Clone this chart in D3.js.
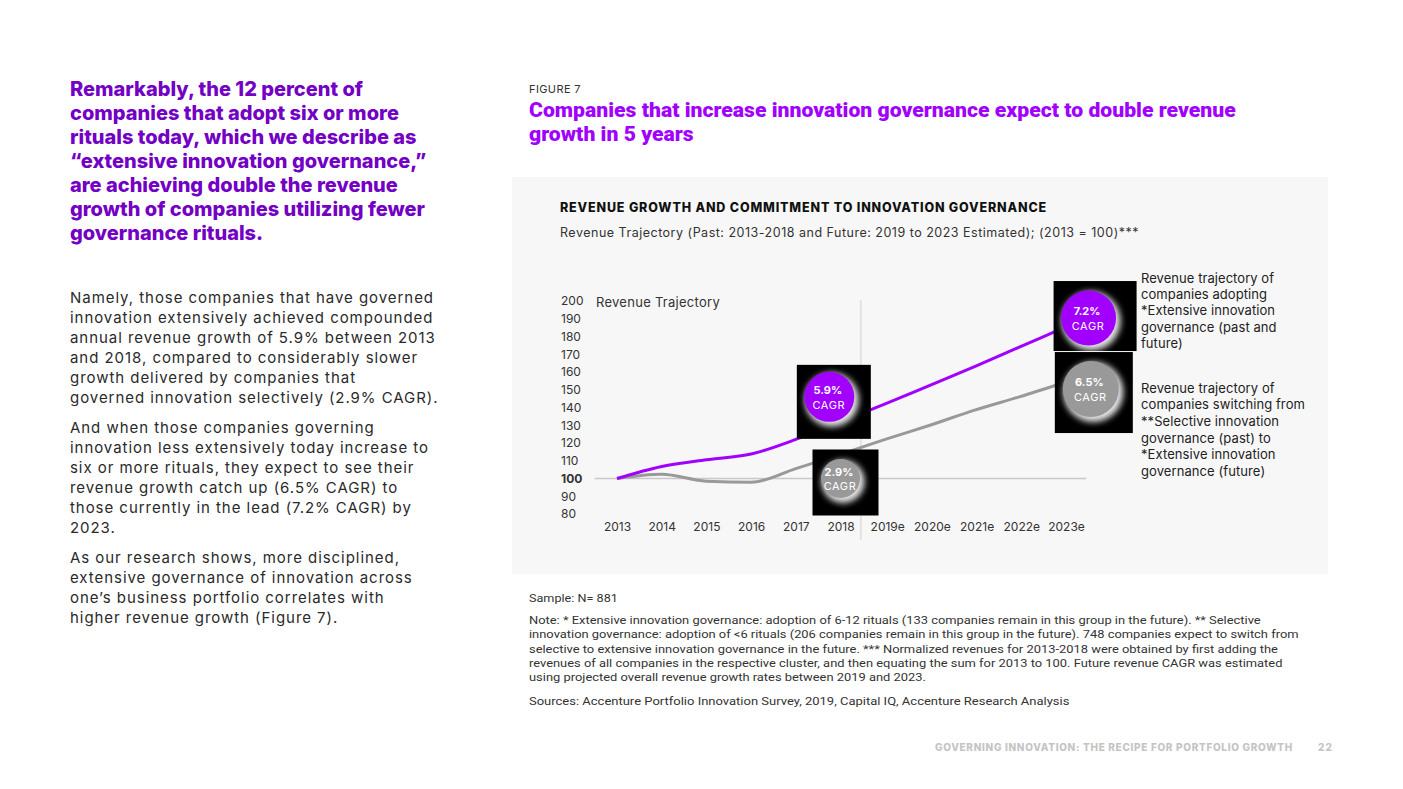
<!DOCTYPE html>
<html><head><meta charset="utf-8">
<script src="https://cdn.jsdelivr.net/npm/d3@7"></script>
<style>body{margin:0;background:#fff;} svg{display:block;}</style>
</head><body>
<svg id="c" width="1403" height="789"></svg>
<script>
// ---------- DATA ----------
const years = ["2013","2014","2015","2016","2017","2018","2019e","2020e","2021e","2022e","2023e"];
const extensiveSeries = [100,106.8,110.6,113.8,122,132,142,152.5,163,174,185];
const switchingSeries = [100,102.4,98.5,97.9,105.6,113.6,122,130,138.5,146,154];
const yTicks = [80,90,100,110,120,130,140,150,160,170,180,190,200];
const cagrLabels = ["5.9%","2.9%","7.2%","6.5%"];
const cagrSeries = ["extensive","switching","extensive","switching"];
const cagrAtIndex = [4.75,5.0,10.55,10.6];
const cagrAtValue = [146,100,190.4,150.4];

const headlineLines = ["Remarkably, the 12 percent of","companies that adopt six or more","rituals today, which we describe as","\u201Cextensive innovation governance,\u201D","are achieving double the revenue","growth of companies utilizing fewer","governance rituals."];
const bodyParas = [
 ["Namely, those companies that have governed","innovation extensively achieved compounded","annual revenue growth of 5.9% between 2013","and 2018, compared to considerably slower","growth delivered by companies that","governed innovation selectively (2.9% CAGR)."],
 ["And when those companies governing","innovation less extensively today increase to","six or more rituals, they expect to see their","revenue growth catch up (6.5% CAGR) to","those currently in the lead (7.2% CAGR) by","2023."],
 ["As our research shows, more disciplined,","extensive governance of innovation across","one\u2019s business portfolio correlates with","higher revenue growth (Figure 7)."]
];
const figureLabel = "FIGURE 7";
const titleLines = ["Companies that increase innovation governance expect to double revenue","growth in 5 years"];
const chartTitle = "REVENUE GROWTH AND COMMITMENT TO INNOVATION GOVERNANCE";
const chartSubtitle = "Revenue Trajectory (Past: 2013-2018 and Future: 2019 to 2023 Estimated); (2013 = 100)***";
const axisTitle = "Revenue Trajectory";
const legendExtensive = ["Revenue trajectory of","companies adopting","*Extensive innovation","governance (past and","future)"];
const legendSwitching = ["Revenue trajectory of","companies switching from","**Selective innovation","governance (past) to","*Extensive innovation","governance (future)"];
const sampleText = "Sample: N= 881";
const noteLines = ["Note: * Extensive innovation governance: adoption of 6-12 rituals (133 companies remain in this group in the future). ** Selective","innovation governance: adoption of <6 rituals (206 companies remain in this group in the future). 748 companies expect to switch from","selective to extensive innovation governance in the future. *** Normalized revenues for 2013-2018 were obtained by first adding the","revenues of all companies in the respective cluster, and then equating the sum for 2013 to 100. Future revenue CAGR was estimated","using projected overall revenue growth rates between 2019 and 2023."];
const sourcesText = "Sources: Accenture Portfolio Innovation Survey, 2019, Capital IQ, Accenture Research Analysis";
const footerText = "GOVERNING INNOVATION: THE RECIPE FOR PORTFOLIO GROWTH";
const pageNumber = "22";

// ---------- STYLE / LAYOUT ----------
const PURPLE = "#a100ff", DARKPURPLE = "#7300c4", GRAY = "#999999", TXT = "#333333";
const svg = d3.select("#c");
const defs = svg.append("defs");
defs.append("filter").attr("id","glow").attr("x","-50%").attr("y","-50%").attr("width","200%").attr("height","200%")
  .append("feGaussianBlur").attr("stdDeviation",3.2);

function block(lines, o){
  const g = svg.append("g");
  const ys = o.ys || lines.map((s,i)=>o.y0 + i*(o.dy||0));
  const texts = lines.map((s,i)=> g.append("text")
    .attr("x",o.x).attr("y",ys[i])
    .attr("font-family",o.family||"Inter").attr("font-size",o.size)
    .attr("font-weight",o.weight||400).attr("fill",o.color||TXT)
    .attr("text-anchor",o.anchor||"start").text(s));
  if (o.refWidth){
    const ri = o.refIdx||0;
    const w = texts[ri].node().getComputedTextLength();
    if (o.mode==="scale"){
      const k = o.refWidth/w;
      g.attr("transform",`translate(${o.x},0) scale(${k},1) translate(${-o.x},0)`);
    } else {
      const ls = (o.refWidth - w)/lines[ri].length;
      texts.forEach(t=>t.attr("letter-spacing",ls));
    }
  }
  return g;
}

// ---------- LEFT COLUMN ----------
block(headlineLines,{x:70,y0:96,dy:24,size:20,weight:800,color:DARKPURPLE,refIdx:5,refWidth:355});
const bodyStarts=[298,428,558];
const bodyLines=[], bodyYs=[];
bodyParas.forEach((p,i)=>p.forEach((s,j)=>{bodyLines.push(s); bodyYs.push(bodyStarts[i]+5.4+j*20);}));
block(bodyLines,{x:70,ys:bodyYs,size:15,color:"#2a2a2a",refIdx:0,refWidth:364});

// ---------- FIGURE HEADER ----------
block([figureLabel],{x:529,y0:93,size:11,color:TXT,refWidth:52});
block(titleLines,{x:529,y0:117.5,dy:24,size:20,weight:900,color:PURPLE,family:"Roboto",refIdx:0,refWidth:707,mode:"scale"});

// ---------- CHART PANEL ----------
svg.append("rect").attr("x",512).attr("y",177).attr("width",816).attr("height",397).attr("fill","#f7f7f7");
block([chartTitle],{x:560,y0:211.5,size:12.5,weight:800,color:"#111",refWidth:487});
block([chartSubtitle],{x:560,y0:236.5,size:12.5,color:TXT,refWidth:579});

const x = d3.scalePoint().domain(years).range([617,1064]);
const y = d3.scaleLinear().domain([80,200]).range([514,301]);
const step = x.step();

// divider between past and future
svg.append("line").attr("x1",(x("2018")+x("2019e"))/2-2).attr("x2",(x("2018")+x("2019e"))/2-2)
  .attr("y1",y(200.5)).attr("y2",540).attr("stroke","#dddddd").attr("stroke-width",1.5);
// baseline at 100
svg.append("line").attr("x1",x("2013")-step/2).attr("x2",x("2023e")+step/2)
  .attr("y1",y(100)).attr("y2",y(100)).attr("stroke","#c8c8c8").attr("stroke-width",1.3);

// y axis
const yAxis = svg.append("g").attr("transform","translate(561,0)")
  .call(d3.axisLeft(y).tickValues(yTicks).tickSize(0).tickPadding(0));
yAxis.select(".domain").remove();
yAxis.selectAll("text").attr("text-anchor","start").attr("x",0)
  .attr("font-family","Inter").attr("font-size",12).attr("fill",TXT)
  .attr("font-weight",d=>d===100?700:400);

// x axis
const xAxis = svg.append("g").attr("transform","translate(0,527)")
  .call(d3.axisBottom(x).tickSize(0).tickPadding(0));
xAxis.select(".domain").remove();
xAxis.selectAll("text").attr("y",0).attr("dy","0.36em")
  .attr("font-family","Inter").attr("font-size",12).attr("fill",TXT)
  .attr("dx",d=>d.endsWith("e")?2:0);

block([axisTitle],{x:596,y0:306.5,size:13,color:TXT,refWidth:124});

// lines
const line = d3.line().x((d,i)=>x(years[i])).y(d=>y(d)).curve(d3.curveMonotoneX);
svg.append("path").datum(switchingSeries).attr("d",line).attr("fill","none").attr("stroke",GRAY).attr("stroke-width",3);
svg.append("path").datum(extensiveSeries).attr("d",line).attr("fill","none").attr("stroke",PURPLE).attr("stroke-width",3);

// CAGR bubbles
const bubbleLayout = [
  {r:25, box:[-32.5,-32,74,74]},
  {r:19.5, box:[-28,-29,66,66]},
  {r:27.5, box:[-35,-37,83,70]},
  {r:28, box:[-36,-37,78,81]}
];
const xi = i => x(years[0]) + i*step;
cagrLabels.forEach((lab,i)=>{
  const cx = xi(cagrAtIndex[i]), cy = y(cagrAtValue[i]);
  const L = bubbleLayout[i];
  const col = cagrSeries[i]==="extensive"?PURPLE:GRAY;
  const g = svg.append("g");
  g.append("rect").attr("x",cx+L.box[0]).attr("y",cy+L.box[1]).attr("width",L.box[2]).attr("height",L.box[3]).attr("fill","#000");
  g.append("circle").attr("cx",cx+2.5).attr("cy",cy+3).attr("r",L.r+2).attr("fill","#ffffff").attr("opacity",0.9).attr("filter","url(#glow)");
  g.append("circle").attr("cx",cx).attr("cy",cy).attr("r",L.r).attr("fill",col);
  g.append("text").attr("x",cx-1.5).attr("y",cy-6.5).attr("dy","0.35em").attr("text-anchor","middle")
    .attr("font-family","Inter").attr("font-weight",700).attr("font-size",11).attr("fill","#fff").text(lab);
  g.append("text").attr("x",cx-0.5).attr("y",cy+8).attr("dy","0.35em").attr("text-anchor","middle")
    .attr("font-family","Inter").attr("font-size",11).attr("letter-spacing",0.6).attr("fill","#fff").text("CAGR");
});

// legends
block(legendExtensive,{x:1141,y0:283,dy:16.2,size:13,color:"#222",refIdx:2,refWidth:134});
block(legendSwitching,{x:1141,y0:392.5,dy:16.7,size:13,color:"#222",refIdx:1,refWidth:164});

// ---------- NOTES ----------
block([sampleText],{x:529,y0:602,size:11,color:TXT,family:"Roboto",refWidth:89,mode:"scale"});
block(noteLines,{x:529,y0:624,dy:14.3,size:11,color:TXT,family:"Roboto",refIdx:1,refWidth:770,mode:"scale"});
block([sourcesText],{x:529,y0:705,size:11,color:TXT,family:"Roboto",refWidth:541,mode:"scale"});

// ---------- FOOTER ----------
block([footerText],{x:935,y0:750.5,size:10,weight:800,color:"#c4c4c4",refWidth:358});
block([pageNumber],{x:1318,y0:750.5,size:10,weight:800,color:"#c4c4c4",refWidth:15});
</script>
</body></html>
